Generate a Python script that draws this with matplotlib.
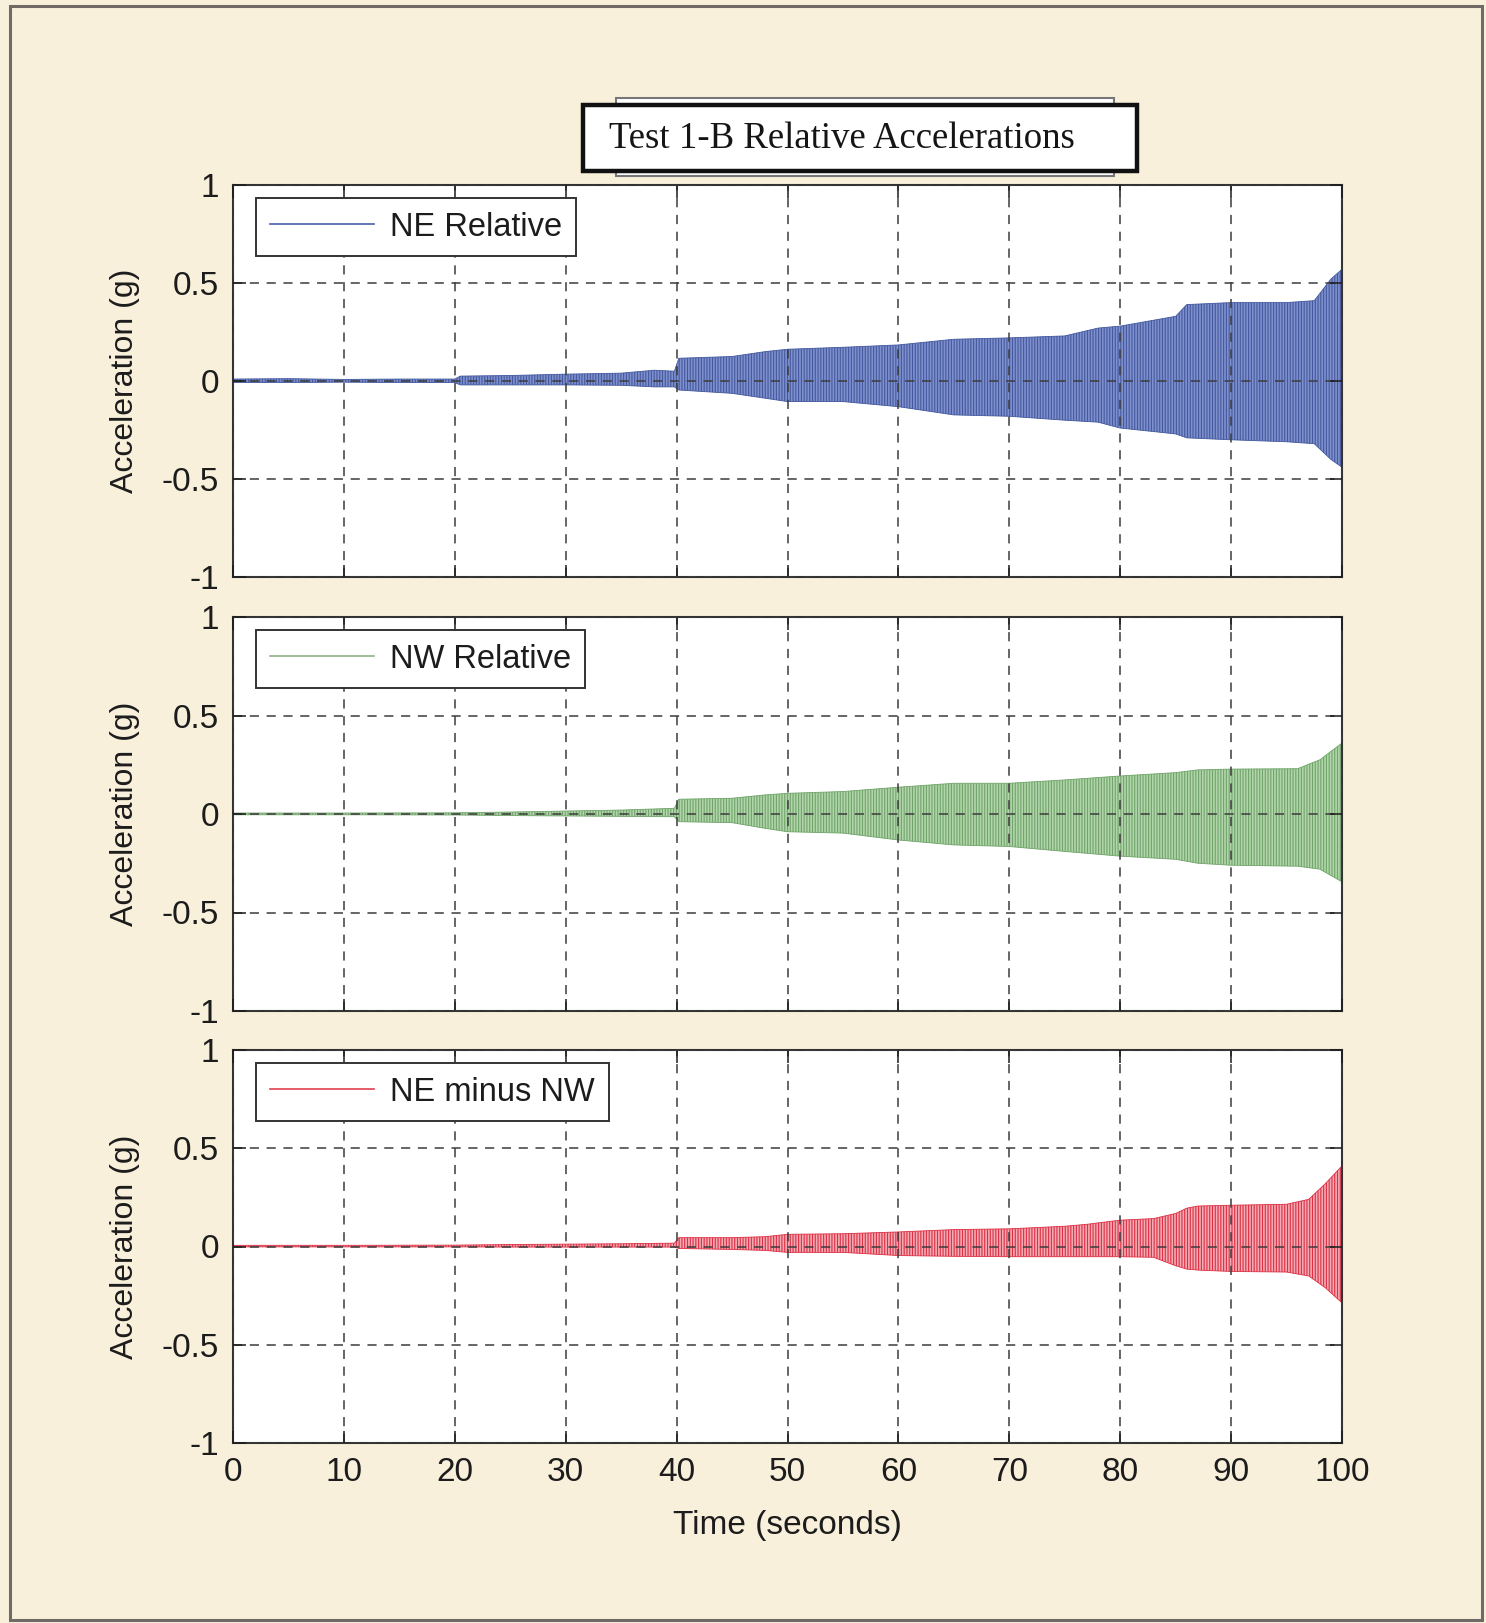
import numpy as np
import matplotlib
matplotlib.use("Agg")
import matplotlib.pyplot as plt
import matplotlib.patches as patches
from matplotlib.lines import Line2D

plt.rcParams['font.family'] = ['Liberation Sans', 'DejaVu Sans']
plt.rcParams['hatch.linewidth'] = 0.8

# envelope of each record (time s, upper g, lower g)
ne_t = [0, 5, 10, 15, 20, 20.5, 25, 30, 35, 38, 39.8, 40.2, 45, 48, 50, 55, 60,
        65, 70, 75, 78, 80, 85, 86, 90, 95, 97.5, 99, 100]
ne_hi = [0.01, 0.012, 0.008, 0.01, 0.01, 0.025, 0.028, 0.035, 0.04, 0.055, 0.05,
         0.116, 0.125, 0.15, 0.162, 0.172, 0.184, 0.213, 0.22, 0.23, 0.27, 0.28,
         0.33, 0.39, 0.40, 0.40, 0.41, 0.52, 0.57]
ne_lo = [-0.008, -0.008, -0.006, -0.008, -0.008, -0.02, -0.02, -0.02, -0.022,
         -0.03, -0.03, -0.046, -0.063, -0.088, -0.105, -0.105, -0.131, -0.173,
         -0.18, -0.2, -0.21, -0.24, -0.27, -0.29, -0.30, -0.31, -0.32, -0.40, -0.44]

nw_t = [0, 10, 20, 25, 30, 35, 39.8, 40.2, 45, 48, 50, 55, 60, 65, 70, 75, 80,
        85, 87, 90, 96, 98, 100]
nw_hi = [0.005, 0.005, 0.006, 0.01, 0.015, 0.02, 0.029, 0.075, 0.08, 0.097,
         0.105, 0.114, 0.136, 0.156, 0.156, 0.173, 0.193, 0.21, 0.224, 0.228,
         0.23, 0.275, 0.36]
nw_lo = [-0.004, -0.004, -0.005, -0.008, -0.01, -0.012, -0.014, -0.039, -0.044,
         -0.073, -0.09, -0.097, -0.132, -0.157, -0.165, -0.19, -0.214, -0.23,
         -0.25, -0.26, -0.265, -0.28, -0.344]

df_t = [0, 10, 20, 25, 30, 35, 39.8, 40.2, 45, 48, 50, 55, 60, 65, 70, 75, 77,
        80, 83, 85, 86, 87, 90, 95, 97, 98.5, 100]
df_hi = [0.006, 0.006, 0.007, 0.01, 0.012, 0.014, 0.017, 0.045, 0.045, 0.05,
         0.062, 0.065, 0.074, 0.086, 0.09, 0.103, 0.113, 0.134, 0.142, 0.168,
         0.195, 0.206, 0.21, 0.215, 0.24, 0.32, 0.41]
df_lo = [-0.002, -0.002, -0.002, -0.003, -0.003, -0.003, -0.003, -0.01, -0.015,
         -0.02, -0.03, -0.03, -0.046, -0.05, -0.052, -0.052, -0.052, -0.052,
         -0.055, -0.098, -0.115, -0.12, -0.127, -0.13, -0.15, -0.21, -0.287]

labels = ['NE Relative', 'NW Relative', 'NE minus NW']
line_colors = ['#4a5fae', '#8fb486', '#e0404f']
face_colors = ['#7f90cc', '#b2d5ab', '#f4aab3']
hatch_colors = ['#43599f', '#70a46a', '#dc2f44']

x_ticks = [0, 10, 20, 30, 40, 50, 60, 70, 80, 90, 100]
y_ticks = [-1, -0.5, 0, 0.5, 1]
y_tick_labels = ['-1', '-0.5', '0', '0.5', '1']

W, H = 1486, 1623
fig = plt.figure(figsize=(W / 100, H / 100), dpi=100)
fig.patch.set_facecolor('#f9f0dc')

# page frame from the scan
fig.add_artist(patches.Rectangle((10 / W, 3 / H), 1472 / W, 1614 / H,
                                 transform=fig.transFigure, fill=False,
                                 edgecolor='#6f6a66', lw=2.2))

# axes boxes (pixel top / bottom from the reference)
boxes = [(185, 577), (617, 1011), (1050, 1443)]
left, right = 233, 1342
series = [(ne_t, ne_hi, ne_lo), (nw_t, nw_hi, nw_lo), (df_t, df_hi, df_lo)]

axes = []
for i, (top, bot) in enumerate(boxes):
    ax = fig.add_axes([left / W, 1 - bot / H, (right - left) / W, (bot - top) / H])
    ax.set_facecolor('white')
    t, hi, lo = series[i]
    ax.fill_between(t, lo, hi, facecolor=face_colors[i], edgecolor=hatch_colors[i],
                    hatch='||||||', linewidth=0.6, zorder=2)
    ax.set_xlim(0, 100)
    ax.set_ylim(-1, 1)
    ax.set_xticks(x_ticks)
    ax.set_yticks(y_ticks)
    ax.set_yticklabels(y_tick_labels)
    ax.grid(True, linestyle=(0, (6, 5)), color='#3c3c3c', linewidth=1.1, zorder=3)
    ax.set_axisbelow(False)
    ax.tick_params(direction='in', length=9, width=1.1, top=True, right=True,
                   labelsize=24, pad=10, colors='#1c1c1c')
    for s in ax.spines.values():
        s.set_linewidth(1.5)
        s.set_color('#333333')
    ax.set_ylabel('Acceleration (g)', fontsize=23, color='#1c1c1c')
    ax.yaxis.set_label_coords(-0.084, 0.5)
    if i < 2:
        ax.tick_params(labelbottom=False)
    handle = Line2D([], [], color=line_colors[i], lw=1.2)
    ax.legend([handle], [labels[i]], loc='upper left',
              bbox_to_anchor=(23 / (right - left), 1 - 13 / (bot - top)),
              borderaxespad=0, fontsize=23.5, fancybox=False, framealpha=1,
              edgecolor='#333333', handlelength=3.2, handletextpad=0.5,
              borderpad=0.42, labelcolor='#1c1c1c').get_frame().set_linewidth(1.4)
    axes.append(ax)

axes[2].set_xlabel('Time (seconds)', fontsize=24, color='#1c1c1c', labelpad=16)

# title box with its shaded double border
fig.add_artist(patches.Rectangle((616 / W, 1 - 176 / H), 498 / W, 78 / H,
                                 transform=fig.transFigure, facecolor='white',
                                 edgecolor='#777777', lw=1.5))
fig.add_artist(patches.Rectangle((583 / W, 1 - 171 / H), 554 / W, 66 / H,
                                 transform=fig.transFigure, facecolor='white',
                                 edgecolor='#111111', lw=3.2))
fig.text(842 / W, 1 - 139 / H, 'Test 1-B Relative Accelerations',
         family=['Liberation Serif', 'DejaVu Serif'], fontsize=26.5,
         ha='center', va='center', color='#151515')

fig.savefig('out.png', dpi=100, facecolor=fig.get_facecolor())
